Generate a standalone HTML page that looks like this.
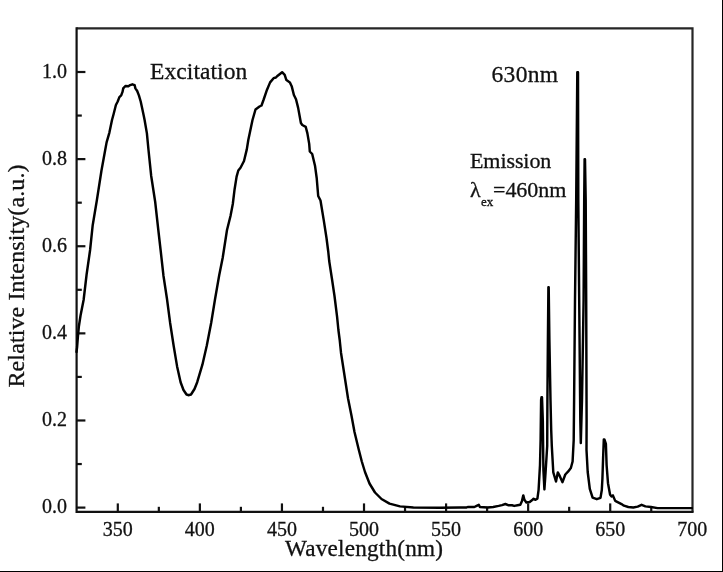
<!DOCTYPE html>
<html><head><meta charset="utf-8"><style>
html,body{margin:0;padding:0;background:#fff;}
body{width:723px;height:572px;overflow:hidden;}
svg{display:block;filter:blur(0.4px);}
text{font-family:"Liberation Serif",serif;fill:#111;stroke:#111;stroke-width:0.3px;}
</style></head><body>
<svg width="723" height="572" viewBox="0 0 723 572">
<rect x="0" y="0" width="723" height="572" fill="#fff"/>
<line x1="722.5" y1="0" x2="722.5" y2="572" stroke="#000" stroke-width="1"/>
<line x1="0" y1="571.5" x2="723" y2="571.5" stroke="#000" stroke-width="1"/>
<path d="M76.6,28.4 H692.5 V511.8" fill="none" stroke="#262626" stroke-width="2.2" stroke-linejoin="miter"/>
<path d="M692.5,511.8 H76.6 V28.4" fill="none" stroke="#111" stroke-width="2.2" stroke-linejoin="miter" stroke-linecap="square"/>
<g stroke="#111" stroke-width="2.2">
<line x1="117.80" y1="511.8" x2="117.80" y2="503.40000000000003"/>
<line x1="158.83" y1="511.8" x2="158.83" y2="506.8"/>
<line x1="199.87" y1="511.8" x2="199.87" y2="503.40000000000003"/>
<line x1="240.90" y1="511.8" x2="240.90" y2="506.8"/>
<line x1="281.94" y1="511.8" x2="281.94" y2="503.40000000000003"/>
<line x1="322.98" y1="511.8" x2="322.98" y2="506.8"/>
<line x1="364.01" y1="511.8" x2="364.01" y2="503.40000000000003"/>
<line x1="405.04" y1="511.8" x2="405.04" y2="506.8"/>
<line x1="446.08" y1="511.8" x2="446.08" y2="503.40000000000003"/>
<line x1="487.12" y1="511.8" x2="487.12" y2="506.8"/>
<line x1="528.15" y1="511.8" x2="528.15" y2="503.40000000000003"/>
<line x1="569.18" y1="511.8" x2="569.18" y2="506.8"/>
<line x1="610.22" y1="511.8" x2="610.22" y2="503.40000000000003"/>
<line x1="651.25" y1="511.8" x2="651.25" y2="506.8"/>
<line x1="76.6" y1="507.60" x2="85.39999999999999" y2="507.60"/>
<line x1="76.6" y1="464.04" x2="81.8" y2="464.04"/>
<line x1="76.6" y1="420.48" x2="85.39999999999999" y2="420.48"/>
<line x1="76.6" y1="376.92" x2="81.8" y2="376.92"/>
<line x1="76.6" y1="333.36" x2="85.39999999999999" y2="333.36"/>
<line x1="76.6" y1="289.80" x2="81.8" y2="289.80"/>
<line x1="76.6" y1="246.24" x2="85.39999999999999" y2="246.24"/>
<line x1="76.6" y1="202.68" x2="81.8" y2="202.68"/>
<line x1="76.6" y1="159.12" x2="85.39999999999999" y2="159.12"/>
<line x1="76.6" y1="115.56" x2="81.8" y2="115.56"/>
<line x1="76.6" y1="72.00" x2="85.39999999999999" y2="72.00"/>
</g>
<path d="M76.5,352.0 L77.1,347.2 L77.9,336.7 L78.9,326.2 L80.5,315.7 L83.6,300.0 L86.6,274.5 L90.1,250.0 L92.7,225.2 L96.9,200.0 L101.4,171.0 L105.2,150.0 L106.6,142.4 L109.4,132.6 L112.0,120.0 L113.7,113.7 L115.9,105.0 L117.7,101.5 L119.4,97.1 L121.2,95.4 L122.5,91.9 L123.2,88.4 L125.4,86.0 L128.4,86.3 L130.2,85.1 L132.4,84.3 L134.6,85.1 L135.4,88.4 L137.2,91.0 L138.9,95.4 L140.7,101.5 L142.0,107.6 L143.7,115.5 L144.6,120.0 L146.9,133.4 L148.5,150.0 L151.2,176.0 L155.2,202.0 L158.2,229.0 L160.6,250.0 L163.5,276.0 L167.0,299.0 L170.1,322.7 L173.6,345.5 L177.1,366.4 L180.6,382.2 L183.5,390.0 L186.5,394.5 L189.0,395.2 L191.0,394.5 L194.5,389.0 L197.2,382.2 L202.4,364.7 L206.8,345.5 L211.2,322.7 L214.9,300.0 L219.2,275.2 L222.7,257.7 L227.0,230.0 L230.5,216.0 L232.8,204.0 L234.6,189.2 L236.6,176.6 L238.3,170.5 L240.5,167.8 L244.0,161.0 L246.8,149.4 L248.3,140.0 L252.5,120.0 L255.5,109.5 L259.5,106.5 L261.5,105.5 L263.5,100.0 L266.6,90.8 L270.1,82.4 L273.6,78.2 L275.9,77.5 L277.7,75.7 L282.1,72.2 L284.7,74.9 L286.4,80.1 L289.9,82.4 L291.8,86.6 L293.9,95.0 L296.0,99.2 L298.1,107.6 L300.9,123.0 L302.3,125.0 L305.7,126.8 L307.4,133.4 L309.2,143.9 L309.8,151.5 L312.2,154.0 L315.0,165.7 L316.7,178.0 L318.2,196.0 L320.5,200.5 L323.7,219.9 L326.5,238.0 L328.3,252.0 L329.2,261.0 L331.9,278.5 L334.5,296.0 L337.1,316.9 L338.4,330.0 L339.7,340.0 L341.0,352.7 L344.5,375.5 L348.0,398.2 L351.5,415.7 L354.5,432.0 L358.6,449.0 L361.8,461.5 L365.0,472.0 L369.5,483.5 L375.0,492.5 L381.5,499.0 L389.5,503.6 L400.0,506.4 L413.4,507.5 L439.7,507.8 L460.0,507.5 L466.6,507.5 L467.7,507.0 L474.4,507.0 L476.6,505.9 L478.8,504.8 L479.9,507.0 L487.7,507.5 L493.2,507.0 L498.7,505.9 L502.0,505.1 L505.4,504.0 L508.7,505.3 L512.0,505.3 L514.2,505.9 L517.5,505.3 L520.3,504.8 L522.0,500.9 L523.3,495.4 L524.4,499.8 L526.4,502.5 L529.7,502.0 L531.9,500.3 L533.6,498.7 L535.2,499.8 L537.4,498.7 L538.6,489.8 L540.0,465.0 L540.6,440.0 L541.1,400.0 L541.5,397.2 L542.0,397.2 L542.8,420.0 L543.4,470.0 L544.4,489.4 L545.6,472.0 L547.2,446.0 L547.4,400.0 L547.9,340.0 L548.4,287.2 L548.7,287.2 L549.4,340.0 L550.5,400.0 L551.2,430.0 L551.8,446.0 L553.3,472.4 L556.0,481.5 L557.8,472.4 L559.7,475.9 L562.5,482.2 L565.3,474.5 L568.0,471.7 L570.1,468.9 L570.8,468.2 L572.6,461.5 L573.7,440.0 L574.1,400.0 L575.0,300.0 L576.2,200.0 L577.3,72.3 L578.0,72.3 L578.3,200.0 L579.2,300.0 L580.3,420.0 L580.8,443.0 L582.0,400.0 L583.6,300.0 L584.2,200.0 L584.6,159.2 L585.0,159.2 L585.7,200.0 L586.2,300.0 L586.6,420.0 L586.5,450.0 L587.7,472.0 L589.8,488.8 L592.6,497.6 L596.8,499.2 L600.5,497.9 L601.8,490.0 L602.4,479.0 L603.1,458.0 L603.8,439.5 L604.4,439.5 L605.9,444.0 L606.6,465.0 L608.0,483.2 L610.1,494.8 L611.5,496.4 L612.9,495.4 L615.2,500.9 L619.1,502.9 L621.5,504.1 L623.9,505.7 L628.3,507.0 L633.3,507.5 L637.7,506.6 L641.6,504.8 L645.4,506.4 L651.0,507.0 L657.6,508.1 L691.9,508.1" fill="none" stroke="#000" stroke-width="2.45" stroke-linejoin="round" stroke-linecap="round"/>
<g font-size="20">
<text x="117.80" y="536" text-anchor="middle">350</text>
<text x="199.87" y="536" text-anchor="middle">400</text>
<text x="281.94" y="536" text-anchor="middle">450</text>
<text x="364.01" y="536" text-anchor="middle">500</text>
<text x="446.08" y="536" text-anchor="middle">550</text>
<text x="528.15" y="536" text-anchor="middle">600</text>
<text x="610.22" y="536" text-anchor="middle">650</text>
<text x="692.29" y="536" text-anchor="middle">700</text>
<text x="67" y="513.10" text-anchor="end">0.0</text>
<text x="67" y="425.98" text-anchor="end">0.2</text>
<text x="67" y="338.86" text-anchor="end">0.4</text>
<text x="67" y="251.74" text-anchor="end">0.6</text>
<text x="67" y="164.62" text-anchor="end">0.8</text>
<text x="67" y="77.50" text-anchor="end">1.0</text>
</g>
<text x="285" y="556.4" font-size="23.2" textLength="158" lengthAdjust="spacing">Wavelength(nm)</text>
<text transform="translate(24,387.5) rotate(-90)" font-size="24" textLength="223" lengthAdjust="spacing">Relative Intensity(a.u.)</text>
<text x="150" y="79" font-size="23.5" textLength="97.3" lengthAdjust="spacing">Excitation</text>
<text x="491.5" y="82.3" font-size="23.5" textLength="66.6" lengthAdjust="spacing">630nm</text>
<text x="470" y="168" font-size="22" textLength="81.3" lengthAdjust="spacing">Emission</text>
<text x="470" y="196.5" font-size="22">λ</text>
<text x="481" y="205.5" font-size="13">ex</text>
<text x="493" y="196.5" font-size="22" textLength="73.4" lengthAdjust="spacing">=460nm</text>
</svg>
</body></html>
